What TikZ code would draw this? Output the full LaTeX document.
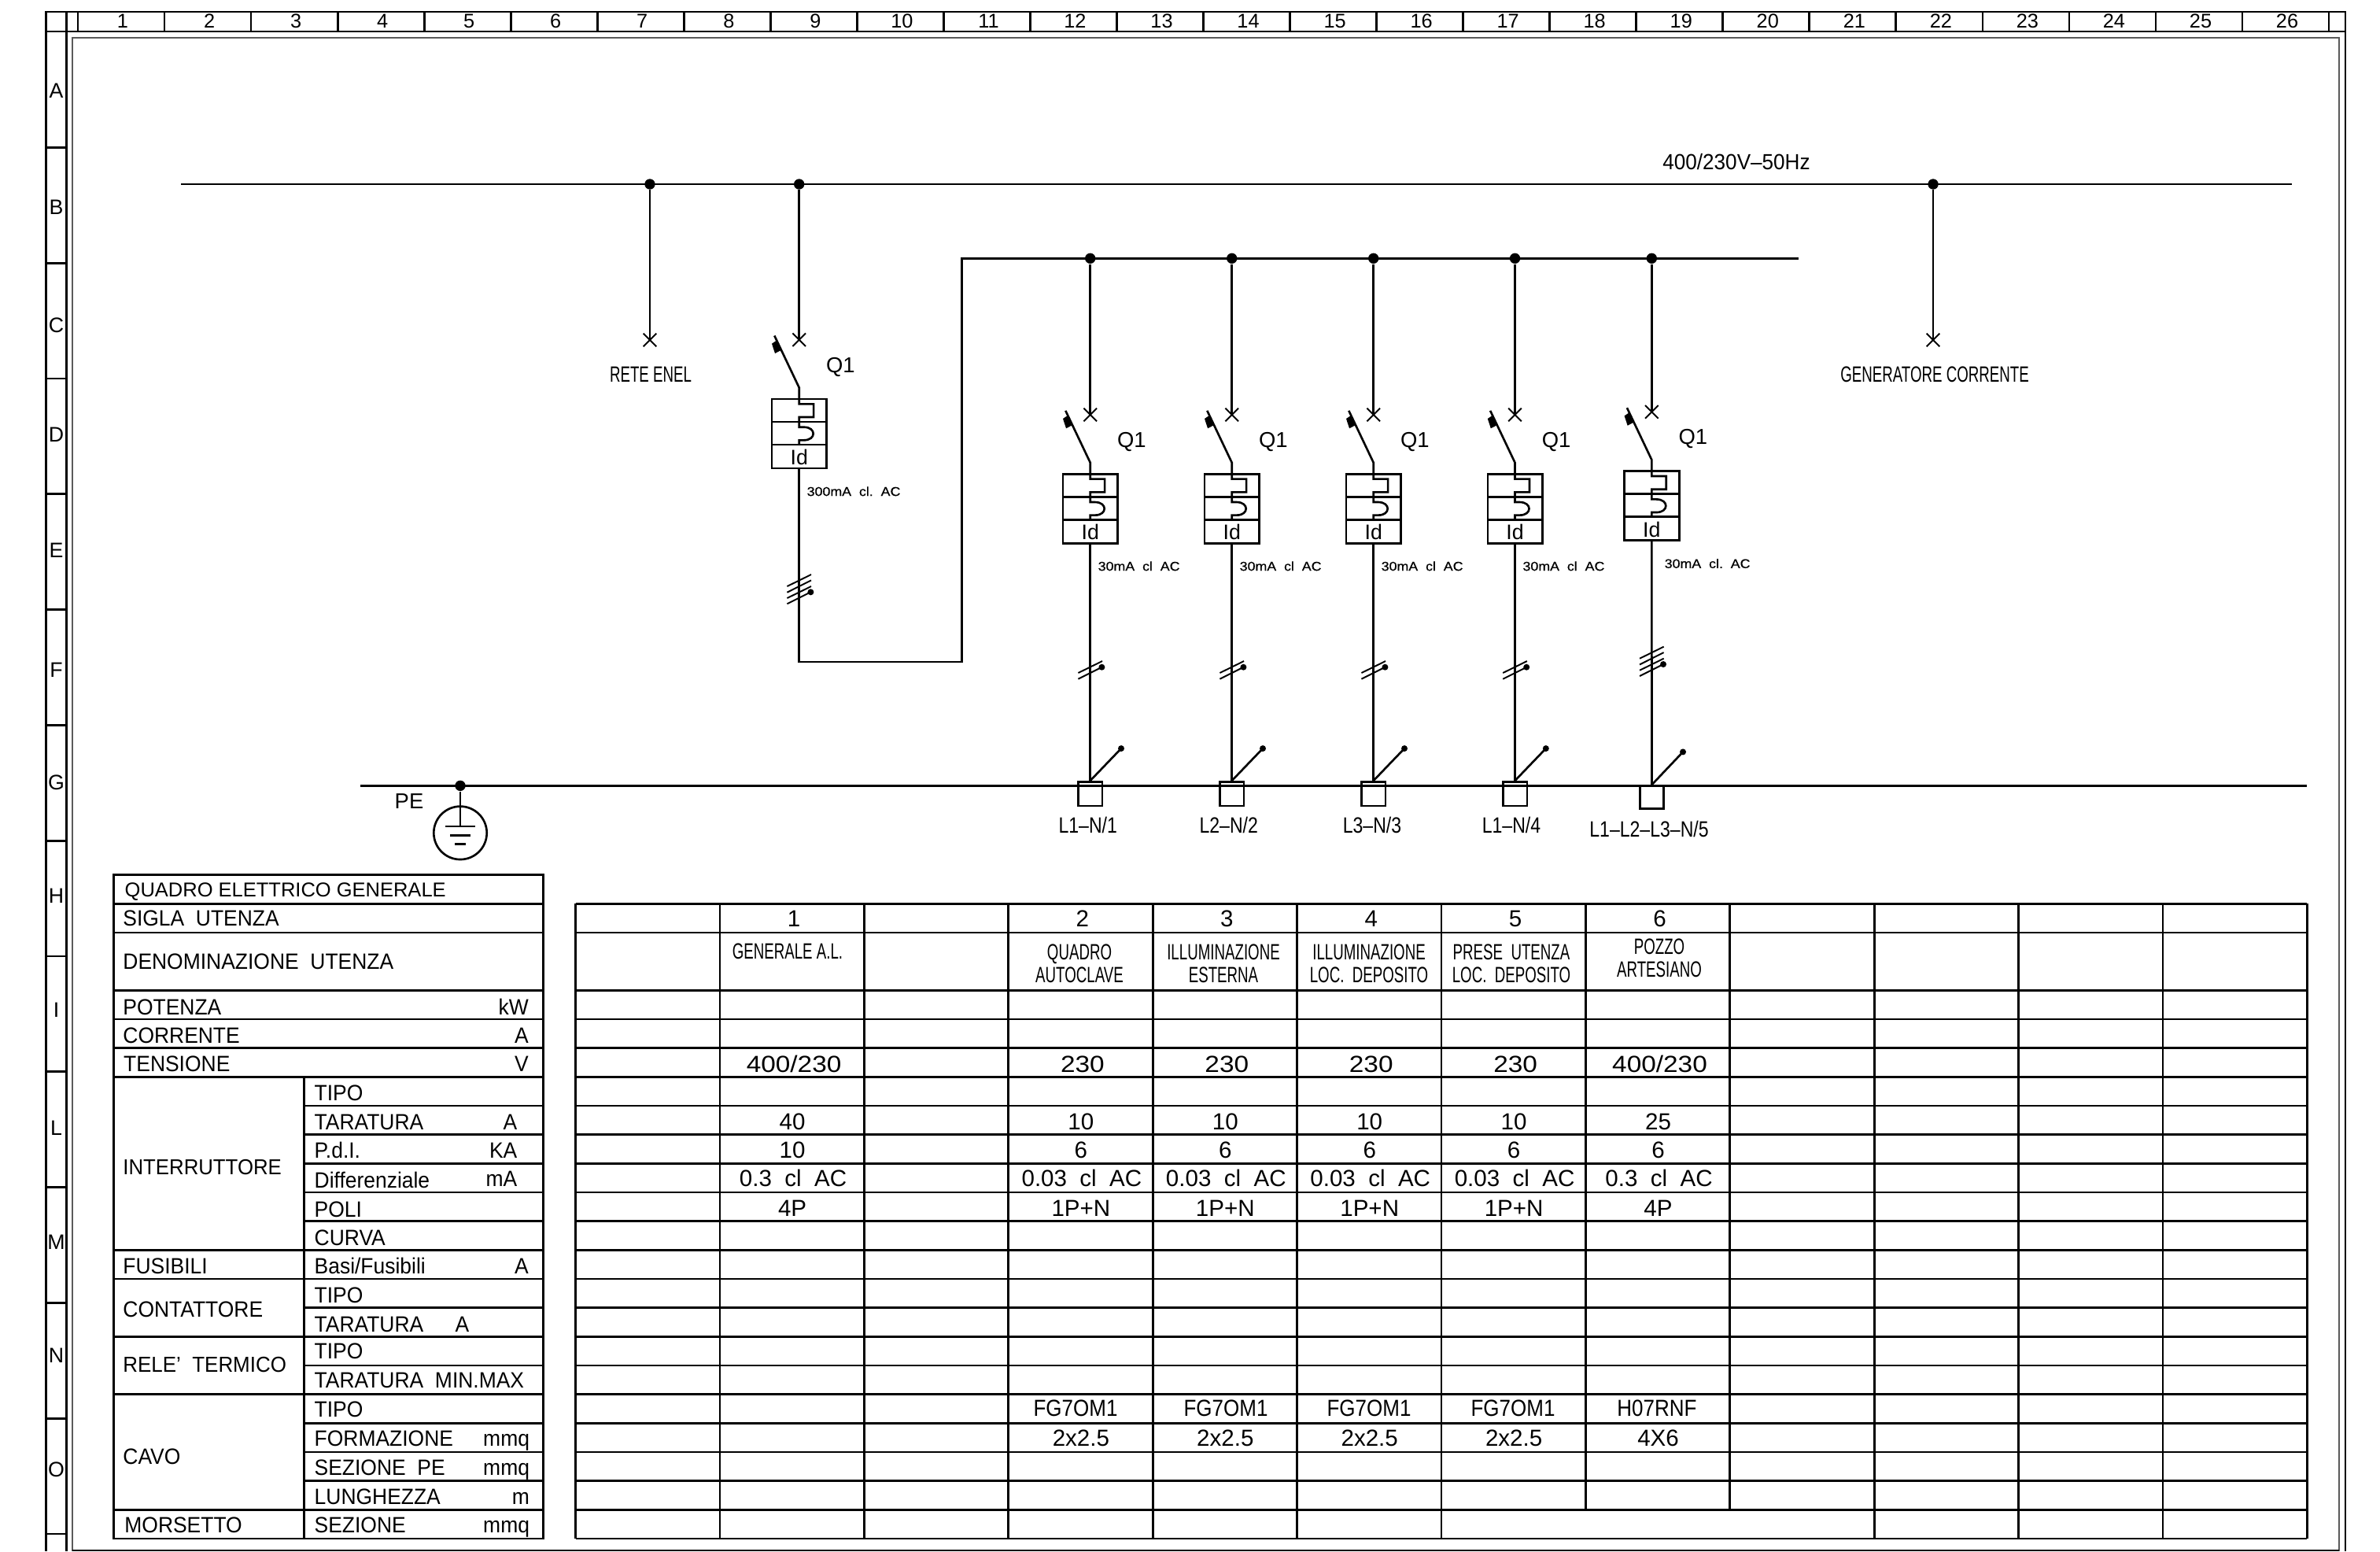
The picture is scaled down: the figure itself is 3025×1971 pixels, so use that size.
\documentclass[tikz,border=0pt]{standalone}
\usepackage{xcolor}
\usepackage{tikz}
\usepackage{fontspec}
\setmainfont[FakeStretch=0.94]{Liberation Sans}
\newfontfamily\plainfont{Liberation Sans}
\newfontfamily\narrowfont[FakeStretch=0.665]{Liberation Sans}
\newfontfamily\midfont[FakeStretch=0.82]{Liberation Sans}
\newfontfamily\tightfont[FakeStretch=0.88]{Liberation Sans}
\newfontfamily\widefont[FakeStretch=1.13]{Liberation Sans}
\newfontfamily\smallfont[FakeStretch=1.1,FakeBold=0.6]{Liberation Sans}
\definecolor{linecolor}{RGB}{0,0,0}
\definecolor{framecolor}{RGB}{90,90,90}

\begin{document}
\begin{tikzpicture}[
    x=0.01cm, y=-0.01cm,
    wire/.style={line width=0.75pt, linecolor},
    thinwire/.style={line width=0.55pt, linecolor},
    gridline/.style={line width=0.8pt, linecolor},
    frameline/.style={line width=0.6pt, framecolor},
    junction/.style={circle, fill=linecolor, draw=none, minimum size=3.8pt, inner sep=0pt},
    ruler/.style={font=\plainfont\fontsize{7.2}{7.2}\selectfont, inner sep=0pt},
    rulerlet/.style={font=\plainfont\fontsize{7.6}{7.6}\selectfont, inner sep=0pt},
    lbl/.style={anchor=west, inner sep=0pt, text height=5.7pt, text depth=0pt, font=\fontsize{8}{8}\selectfont},
    unit/.style={anchor=east, inner sep=0pt, text height=5.7pt, text depth=0pt, font=\fontsize{8}{8}\selectfont},
    val/.style={inner sep=0pt, text height=5.9pt, text depth=0pt, font=\plainfont\fontsize{8.4}{8.4}\selectfont},
    title/.style={inner sep=0pt, align=center, font=\narrowfont\fontsize{8}{8.25}\selectfont},
    sym/.style={inner sep=0pt, font=\midfont\fontsize{8}{8}\selectfont},
    rating/.style={anchor=west, inner sep=0pt, font=\smallfont\fontsize{4.6}{4.6}\selectfont},
    breaker/.pic={
        % origin on the wire at the top edge of the box
        \coordinate (-feed) at (0,-75.3);
        \coordinate (-out) at (0,88);
        \draw[thinwire] (-8.3,-83.6) -- (8.3,-67);
        \draw[thinwire] (-8.3,-67) -- (8.3,-83.6);
        \draw[wire] (-31.4,-80.5) -- (0,-14.5) -- (0,6.3) -- (18.4,6.3) -- (18.4,23) -- (0,23) -- (0,35.7)
            -- (6,35.7) .. controls (22,35.7) and (22,52.3) .. (6,52.3) -- (0,52.3) -- (0,58);
        \fill[linecolor] (-28.3,-74.7) -- (-34.7,-70.3) -- (-30.7,-58) -- (-23,-62) -- cycle;
        \draw[wire] (-34.7,0) rectangle (35,88);
        \draw[wire] (-34.7,29) -- (35,29);
        \draw[wire] (-34.7,58) -- (35,58);
        \node[sym, font=\plainfont\fontsize{7.6}{7.6}\selectfont] (-id) at (0,74) {Id};
        \node[sym, font=\plainfont\fontsize{7.8}{7.8}\selectfont] (-name) at (52.6,-41) {Q1};
    },
    hashtwo/.pic={
        \draw[thinwire] (-15.3,7.3) -- (15.3,-7.7);
        \draw[thinwire] (-15.3,15) -- (14.7,0);
        \fill[linecolor] (14.7,0) circle (4);
    },
    hashfour/.pic={
        \draw[thinwire] (-15.3,-7.3) -- (15.3,-22.3);
        \draw[thinwire] (-15.3,0.4) -- (15.3,-15);
        \draw[thinwire] (-15.3,7.7) -- (15.3,-7.3);
        \draw[thinwire] (-15.3,15) -- (14.7,0);
        \fill[linecolor] (14.7,0) circle (4);
    }
]
    % Sheet frame and ruler
    \useasboundingbox (0,0) rectangle (3025,1971);
    \draw[gridline] (58.3,15) rectangle (2981,40);
    \draw[gridline] (58.3,40) -- (58.3,1971);
    \draw[gridline] (84.3,15) -- (84.3,1971);
    \draw[gridline] (2981,40) -- (2981,1971);
    \draw[frameline] (91.7,1971) -- (91.7,48.3) -- (2973.3,48.3) -- (2973.3,1971);
    \draw[thinwire] (91.7,1970) -- (2973.3,1970);
    \foreach \k in {0,...,26}
        \draw[gridline] ({99+110.04*\k},15) -- ({99+110.04*\k},40);
    \foreach \k in {1,...,26}
        \node[ruler] (num\k) at ({99+110.04*(\k-0.5)+2},27) {\k};
    \foreach \k in {0,...,12}
        \draw[gridline] (58.3,{187.3+146.8*\k}) -- (84.3,{187.3+146.8*\k});
    \foreach \t/\yt in {A/115,B/263,C/413,D/552,E/699,F/851,G/994,H/1138,I/1283,L/1433,M/1578,N/1722,O/1867}
        \node[rulerlet] (let\t) at (71.5,\yt) {\t};

    % Supply bus
    \coordinate (busa) at (230,234);
    \coordinate (busb) at (2913,234);
    \draw[wire] (busa) -- (busb);
    \node[sym, font=\fontsize{7.9}{7.9}\selectfont] (supply) at (2207,206) {400/230V–50Hz};
    \node[junction] (jenel) at (826,234) {};
    \node[junction] (jmain) at (1015.7,234) {};
    \node[junction] (jgen) at (2457,234) {};

    % Incoming lines
    \coordinate (xenel) at (826,432);
    \coordinate (xgen) at (2457,432);
    \draw[wire] (jenel) -- (xenel);
    \draw[wire] (jgen) -- (xgen);
    \draw[thinwire] (817.7,423.7) -- (834.3,440.3);
    \draw[thinwire] (817.7,440.3) -- (834.3,423.7);
    \draw[thinwire] (2448.7,423.7) -- (2465.3,440.3);
    \draw[thinwire] (2448.7,440.3) -- (2465.3,423.7);
    \node[sym] (enel) at (827,476) {\narrowfont RETE ENEL};
    \node[sym] (gen) at (2459,476) {\narrowfont GENERATORE CORRENTE};

    % Main breaker
    \pic (qmain) at (1015.7,507) {breaker};
    \draw[wire] (jmain) -- (qmain-feed);
    \node[rating] (rmain) at (1025,624.3) {300mA~~cl.~~AC};
    \pic (hmain) at (1015.7,752.3) {hashfour};
    \coordinate (cornerb) at (1015.7,841);
    \coordinate (cornerc) at (1222.7,841);
    \coordinate (busd) at (1222.7,328.3);
    \coordinate (buse) at (2286,328.3);
    \draw[wire] (qmain-out) -- (cornerb) -- (cornerc) -- (busd) -- (buse);

    % Earth bus
    \coordinate (pea) at (458.3,998.3);
    \coordinate (peb) at (2932,998.3);
    \draw[wire] (pea) -- (peb);
    \node[junction] (jpe) at (585,998.3) {};
    \node[sym, font=\plainfont\fontsize{7.8}{7.8}\selectfont] (pe) at (520,1018.3) {PE};
    \node[circle, draw, wire, minimum size=67.4*0.2845pt, inner sep=0pt] (earth) at (585,1058.3) {};
    \coordinate (gnd) at (585,1050);
    \draw[wire] (jpe) -- (gnd);
    \draw[wire] (566,1050) -- (604,1050);
    \draw[wire] (572,1061.7) -- (598,1061.7);
    \draw[wire] (578,1072.7) -- (592,1072.7);

    % Feeders
    \foreach \n/\xf/\lab/\lx in {1/1385.7/L1–N\slash1/1382.7, 2/1565.7/L2–N\slash2/1561.7, 3/1745.7/L3–N\slash3/1744, 4/1925.5/L1–N\slash4/1921}{
        \node[junction] (j\n) at (\xf,328.3) {};
        \pic (q\n) at (\xf,602.3) {breaker};
        \draw[wire] (j\n) -- (q\n-feed);
        \node[rating] (r\n) at (\xf+9.3,719.3) {30mA~~cl~~AC};
        \pic (h\n) at (\xf,847.7) {hashtwo};
        \node[draw, wire, minimum width=30.6*0.2845pt, minimum height=30.7*0.2845pt, inner sep=0pt] (t\n) at (\xf,1008.6) {};
        \coordinate (tip\n) at (\xf+39.3,951);
        \draw[wire] (q\n-out) -- (t\n.north);
        \draw[wire] (t\n.north) -- (tip\n);
        \fill[linecolor] (tip\n) circle (4);
        \node[sym] (n\n) at (\lx,1048.3) {\midfont\lab};
    }
    \node[junction] (j5) at (2099.3,328.3) {};
    \pic (q5) at (2099.3,598.7) {breaker};
    \draw[wire] (j5) -- (q5-feed);
    \node[rating] (r5) at (2115,716) {30mA~~cl.~~AC};
    \pic (h5) at (2099.3,844) {hashfour};
    \node[draw, wire, minimum width=30*0.2845pt, minimum height=29.1*0.2845pt, inner sep=0pt] (t5) at (2099.5,1012.9) {};
    \coordinate (tip5) at (2139,955.4);
    \draw[wire] (q5-out) -- (t5.north);
    \draw[wire] (t5.north) -- (tip5);
    \fill[linecolor] (tip5) circle (4);
    \node[sym] (n5) at (2096,1053) {\midfont L1–L2–L3–N/5};

    % Left table
    \draw[gridline] (144.6,1111.7) rectangle (690.7,1955);
    \draw[gridline] (386.6,1368.3) -- (386.6,1955);
    \foreach \yr in {1148.3,1185,1258.3,1295,1331.7,1368.3,1588.3,1625,1698.3,1771.7,1918.3}
        \draw[gridline] (144.6,\yr) -- (690.7,\yr);
    \foreach \yr in {1405,1441.7,1478.3,1515,1551.7,1661.7,1735,1808.3,1845,1881.7}
        \draw[gridline] (386.6,\yr) -- (690.7,\yr);

    \node[lbl, font=\plainfont\fontsize{7.25}{7.25}\selectfont] (quadro) at (158,1129) {QUADRO ELETTRICO GENERALE};
    \node[lbl] (sigla) at (155.7,1166) {SIGLA~~UTENZA};
    \node[lbl] (denom) at (155.7,1221) {DENOMINAZIONE~~UTENZA};
    \node[lbl] (potenza) at (155.7,1279) {POTENZA};
    \node[lbl] (corrente) at (155.7,1315.7) {CORRENTE};
    \node[lbl] (tensione) at (156.5,1351) {TENSIONE};
    \node[lbl, font=\fontsize{7.8}{7.8}\selectfont] (interr) at (155.7,1482) {INTERRUTTORE};
    \node[lbl] (fusibili) at (155.7,1608) {FUSIBILI};
    \node[lbl] (contat) at (155.7,1663) {CONTATTORE};
    \node[lbl, font=\fontsize{7.85}{7.85}\selectfont] (rele) at (155.7,1733) {RELE'~~TERMICO};
    \node[lbl] (cavo) at (155.7,1850) {CAVO};
    \node[lbl] (morsetto) at (157.7,1937.7) {MORSETTO};
    \node[unit] (ukw) at (672.5,1279) {kW};
    \node[unit] (ua) at (672.5,1315.7) {A};
    \node[unit] (uv) at (672.5,1351) {V};

    \node[lbl] (itipo) at (399,1388) {TIPO};
    \node[lbl] (itar) at (399,1425) {TARATURA};
    \node[lbl] (ipdi) at (399,1461.7) {P.d.I.};
    \node[lbl] (idiff) at (399,1499) {Differenziale};
    \node[lbl] (ipoli) at (399,1536.7) {POLI};
    \node[lbl] (icurva) at (399,1572.7) {CURVA};
    \node[lbl] (fbasi) at (399,1608) {Basi/Fusibili};
    \node[lbl] (ctipo) at (399,1645.7) {TIPO};
    \node[lbl] (ctar) at (399,1682.7) {TARATURA};
    \node[lbl] (rtipo) at (399,1716.7) {TIPO};
    \node[lbl] (rtar) at (399,1753) {TARATURA~~MIN.MAX};
    \node[lbl] (vtipo) at (399,1790) {TIPO};
    \node[lbl] (vform) at (399,1827) {FORMAZIONE};
    \node[lbl] (vsez) at (399,1864.3) {SEZIONE~~PE};
    \node[lbl] (vlung) at (399,1901) {LUNGHEZZA};
    \node[lbl] (msez) at (399,1937.7) {SEZIONE};
    \node[unit] (uitar) at (658,1425) {A};
    \node[unit] (uipdi) at (658,1461.7) {KA};
    \node[unit] (uidiff) at (658,1497) {mA};
    \node[unit] (ufbasi) at (672.5,1608) {A};
    \node[unit] (uctar) at (597,1682.7) {A};
    \node[unit] (uvform) at (673.7,1827) {mmq};
    \node[unit] (uvsez) at (673.7,1864.3) {mmq};
    \node[unit] (uvlung) at (673.7,1901) {m};
    \node[unit] (umsez) at (673.7,1937.7) {mmq};

    % Right table
    \foreach \yr in {1148.3,1185,1258.3,1295,1331.7,1368.3,1405,1441.7,1478.3,1515,1551.7,1588.3,1625,1661.7,1698.3,1735,1771.7,1808.3,1845,1881.7,1918.3,1955}
        \draw[gridline] (731.5,\yr) -- (2932.3,\yr);
    \foreach \k in {0,...,6,9,10,11,12}
        \draw[gridline] ({731.5+183.4*\k},1148.3) -- ({731.5+183.4*\k},1955);
    \foreach \k in {7,8}
        \draw[gridline] ({731.5+183.4*\k},1148.3) -- ({731.5+183.4*\k},1918.3);

    \foreach \c/\t in {1/1,3/2,4/3,5/4,6/5,7/6}
        \node[val] (sig\c) at ({734+183.4*(\c+0.5)},1167) {\t};
    \node[title] (den1) at (1001,1209) {GENERALE A.L.};
    \node[title] (den3) at (1372,1224.5) {QUADRO\\AUTOCLAVE};
    \node[title] (den4) at (1555,1224.5) {ILLUMINAZIONE\\ESTERNA};
    \node[title] (den5) at (1740,1224.5) {ILLUMINAZIONE\\LOC.~~DEPOSITO};
    \node[title] (den6) at (1921,1224.5) {PRESE~~UTENZA\\LOC.~~DEPOSITO};
    \node[title] (den7) at (2109,1217.5) {POZZO\\ARTESIANO};
    \foreach \c/\t in {1/400\slash230,3/230,4/230,5/230,6/230,7/400\slash230}
        \node[val, font=\widefont\fontsize{8.4}{8.4}\selectfont] (ten\c) at ({734+183.4*(\c+0.5)},1352) {\t};
    \foreach \c/\t in {1/40,3/10,4/10,5/10,6/10,7/25}
        \node[val] (tar\c) at ({732+183.4*(\c+0.5)},1425) {\t};
    \foreach \c/\t in {1/10,3/6,4/6,5/6,6/6,7/6}
        \node[val] (pdi\c) at ({732+183.4*(\c+0.5)},1461) {\t};
    \foreach \c/\t in {1/0.3~~cl~~AC,3/0.03~~cl~~AC,4/0.03~~cl~~AC,5/0.03~~cl~~AC,6/0.03~~cl~~AC,7/0.3~~cl~~AC}
        \node[val] (dif\c) at ({733+183.4*(\c+0.5)},1497) {\t};
    \foreach \c/\t in {1/4P,3/1P+N,4/1P+N,5/1P+N,6/1P+N,7/4P}
        \node[val] (pol\c) at ({732+183.4*(\c+0.5)},1535) {\t};
    \foreach \c/\xc/\t in {3/1367/FG7OM1,4/1558/FG7OM1,5/1740/FG7OM1,6/1923/FG7OM1,7/2106/H07RNF}
        \node[val, font=\tightfont\fontsize{8.4}{8.4}\selectfont] (cav\c) at (\xc,1789) {\t};
    \foreach \c/\t in {3/2x2.5,4/2x2.5,5/2x2.5,6/2x2.5,7/4X6}
        \node[val] (for\c) at ({732+183.4*(\c+0.5)},1826.7) {\t};
\end{tikzpicture}
\end{document}
